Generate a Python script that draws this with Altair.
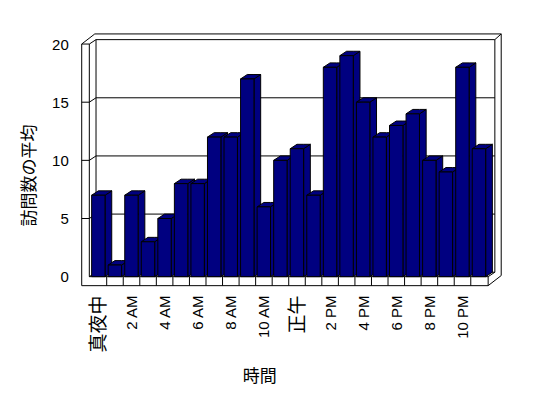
import json
import altair as alt
import pandas as pd

# ---- data ----
hours = list(range(24))
avg_visits = [7, 1, 7, 3, 5, 8, 8, 12, 12, 17, 6, 10, 11, 7, 18, 19, 15, 12, 13, 14, 10, 9, 18, 11]
tick_labels = ["真夜中", "2 AM", "4 AM", "6 AM", "8 AM", "10 AM", "正午", "2 PM", "4 PM", "6 PM", "8 PM", "10 PM"]
y_ticks = [0, 5, 10, 15, 20]
y_title = "訪問数の平均"
x_title = "時間"

# ---- 3D style geometry (in data units) ----
DX, DY = 0.405, 0.38      # bar depth / inner back plane shift
DX2, DY2 = 0.79, 0.87     # outer back plane shift (wall thickness)
XLO, XLI, XR = -0.51, -0.05, 24.05
YT, YB = 20, -0.774
BL, BR = 0.09, 0.9        # front face within category

FONT = "Liberation Sans, Arial, Noto Sans CJK JP"
NAVY = "#000080"

xs = alt.Scale(domain=[-1.2, 25.4], nice=False, zero=False)
ys = alt.Scale(domain=[-1, 21.5], nice=False, zero=False)

label_expr = json.dumps(tick_labels, ensure_ascii=False) + "[floor(datum.value / 2)]"
x_axis = alt.Axis(
    values=[h + 0.5 for h in hours[::2]],
    labelExpr=label_expr,
    labelAngle=-90,
    labelPadding=6.7,
    labelOverlap=False,
    labelBound=False,
    labelFlush=False,
    labelFontSize={"condition": {"test": "datum.value == 0.5 || datum.value == 12.5", "value": 19}, "value": 15},
    labelFont=FONT,
    labelColor="black",
    ticks=False,
    tickSize=0,
    domain=False,
    grid=False,
    title=x_title,
    titleFont=FONT,
    titleFontSize=17,
    titleFontWeight="normal",
    titleColor="black",
    titleX=189,
    titleY=88.4,
    titleAlign="center",
    titleBaseline="middle",
)
y_axis = alt.Axis(
    values=y_ticks,
    labelPadding=2,
    labelFontSize=15,
    labelFont=FONT,
    labelColor="black",
    ticks=False,
    tickSize=0,
    domain=False,
    grid=False,
    title=y_title,
    titleFont=FONT,
    titleFontSize=17,
    titleFontWeight="normal",
    titleColor="black",
    titleX=-40.3,
    titleY=148.4,
    titleAngle=270,
    titleAlign="center",
    titleBaseline="middle",
)

# bar faces
front = pd.DataFrame({
    "h": hours,
    "x": [h + BL for h in hours],
    "x2": [h + BR for h in hours],
    "y0": [0] * 24,
    "v": avg_visits,
})
side_rows, top_rows = [], []
for h, v in zip(hours, avg_visits):
    r, l = h + BR, h + BL
    side_rows += [
        {"id": f"b{h}", "x": r, "lo": 0, "hi": v},
        {"id": f"b{h}", "x": r + DX, "lo": DY, "hi": v + DY},
    ]
    top_rows += [
        {"id": f"b{h}", "x": l, "lo": v, "hi": v},
        {"id": f"b{h}", "x": l + DX, "lo": v, "hi": v + DY},
        {"id": f"b{h}", "x": r, "lo": v, "hi": v + DY},
        {"id": f"b{h}", "x": r + DX, "lo": v + DY, "hi": v + DY},
    ]
side = pd.DataFrame(side_rows)
top = pd.DataFrame(top_rows)

# wall / floor / grid lines
segs = [
    (XLO, YB, XLO, YT), (XLI, 0, XLI, YT), (XLO, YT, XLI, YT),
    (XLO, YT, XLO + DX2, YT + DY2), (XLI, YT, XLI + DX, YT + DY),
    (XLO + DX2, YT + DY2, XR + DX2, YT + DY2), (XLI + DX, YT + DY, XR + DX, YT + DY),
    (XLI + DX, DY, XLI + DX, YT + DY), (XR + DX, DY, XR + DX, YT + DY),
    (XR + DX2, YB + DY2, XR + DX2, YT + DY2), (XR + DX, YT + DY, XR + DX2, YT + DY2),
    (XLO, YB, XR, YB), (XLI, 0, XR, 0), (XR, YB, XR, 0),
    (XR, YB, XR + DX2, YB + DY2), (XR, 0, XR + DX, DY),
    (XLI, 0, XLI + DX, DY), (XLI + DX, DY, XR + DX, DY),
]
for k in range(1, 24):
    segs.append((k, YB, k, 0))
for t in y_ticks[1:-1]:
    segs += [(XLO, t, XLI, t), (XLI, t, XLI + DX, t + DY), (XLI + DX, t + DY, XR + DX, t + DY)]
lines = pd.DataFrame(segs, columns=["x", "y", "x2", "y2"])

rules = alt.Chart(lines).mark_rule(color="black", strokeWidth=1).encode(
    x=alt.X("x:Q", scale=xs, axis=x_axis),
    y=alt.Y("y:Q", scale=ys, axis=y_axis),
    x2="x2:Q",
    y2="y2:Q",
)

area_kw = dict(fill=NAVY, fillOpacity=1, stroke="black", strokeWidth=1,
               orient="vertical", interpolate="linear")
side_layer = alt.Chart(side).mark_area(**area_kw).encode(
    x=alt.X("x:Q", scale=xs, axis=x_axis),
    y=alt.Y("lo:Q", scale=ys, axis=y_axis, stack=None),
    y2="hi:Q",
    detail="id:N",
)
top_layer = alt.Chart(top).mark_area(**area_kw).encode(
    x=alt.X("x:Q", scale=xs, axis=x_axis),
    y=alt.Y("lo:Q", scale=ys, axis=y_axis, stack=None),
    y2="hi:Q",
    detail="id:N",
)
front_layer = alt.Chart(front).mark_rect(fill=NAVY, fillOpacity=1, stroke="black", strokeWidth=1).encode(
    x=alt.X("x:Q", scale=xs, axis=x_axis),
    x2="x2:Q",
    y=alt.Y("y0:Q", scale=ys, axis=y_axis),
    y2="v:Q",
)

chart = alt.layer(rules, side_layer, top_layer, front_layer).properties(
    width=440.2,
    height=261.7,
    autosize=alt.AutoSizeParams(type="none"),
    padding={"left": 62.29, "top": 18.6, "right": 20, "bottom": 105},
    background="white",
).configure_view(stroke=None)

chart.save("out.html", embed_options={"renderer": "svg", "actions": False})
